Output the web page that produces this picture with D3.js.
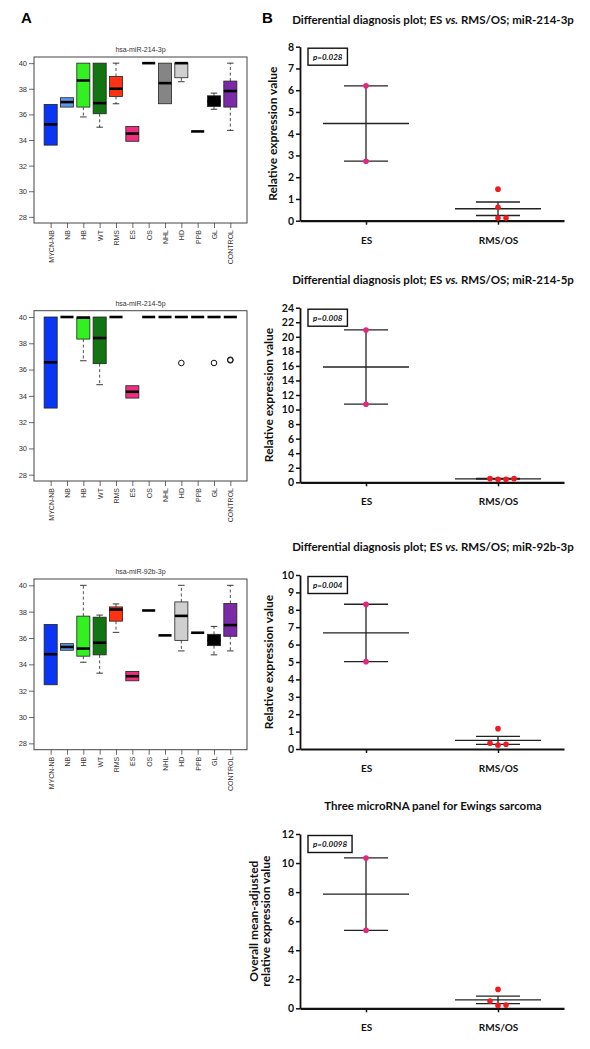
<!DOCTYPE html>
<html><head><meta charset="utf-8">
<script src="https://cdn.jsdelivr.net/npm/d3@7"></script>
<style>body{margin:0;background:#fff}svg{display:block}</style>
</head><body>
<svg id="c" width="590" height="1049"></svg>
<script>
// ---------- Panel A data (box plots, Ct values) ----------
const categories = ["MYCN-NB","NB","HB","WT","RMS","ES","OS","NHL","HD","PPB","GL","CONTROL"];
const boxColors = ["#0a35f5","#5b9be8","#33f020","#127412","#ff3312","#ee2f80","#000000","#858585","#cfcfcf","#000000","#000000","#7a2aa6"];
const boxTitles = ["hsa-miR-214-3p","hsa-miR-214-5p","hsa-miR-92b-3p"];
const boxTicks = [28,30,32,34,36,38,40];
// [lower whisker, Q1, median, Q3, upper whisker]
const stats214_3p = [
  [33.6,33.6,35.22,36.78,36.78],
  [36.57,36.57,36.96,37.3,37.3],
  [35.8,36.57,38.65,40,40],
  [35.0,36.05,36.88,40,40],
  [36.83,37.4,38.0,38.96,40],
  [33.9,33.9,34.5,35.06,35.06],
  [40,40,40,40,40],
  [36.83,36.83,38.44,40,40],
  [38.55,38.86,40,40,40],
  [34.67,34.67,34.67,34.67,34.67],
  [36.4,36.62,37.0,37.45,37.66],
  [34.75,36.57,37.82,38.6,40]
];
const stats214_5p = [
  [33.07,33.07,36.55,40,40],
  [40,40,40,40,40],
  [36.67,38.32,39.95,40,40],
  [34.85,36.45,38.4,40,40],
  [40,40,40,40,40],
  [33.83,33.83,34.31,34.77,34.77],
  [40,40,40,40,40],
  [40,40,40,40,40],
  [40,40,40,40,40],
  [40,40,40,40,40],
  [40,40,40,40,40],
  [40,40,40,40,40]
];
const outliers214_5p = [["HD",36.5],["GL",36.5],["CONTROL",36.7],["CONTROL",36.75]];
const stats92b_3p = [
  [32.45,32.45,34.77,37.03,37.03],
  [35.07,35.07,35.32,35.57,35.57],
  [34.16,34.62,35.2,37.66,40],
  [33.33,34.72,35.64,37.58,37.74],
  [36.43,37.28,38.16,38.36,38.59],
  [32.75,32.75,33.1,33.46,33.46],
  [38.09,38.09,38.09,38.09,38.09],
  [36.2,36.2,36.2,36.2,36.2],
  [35.02,35.82,37.68,38.74,40],
  [36.4,36.4,36.4,36.4,36.4],
  [34.72,35.42,35.8,36.28,36.88],
  [35.02,36.13,36.98,38.62,40]
];

// ---------- Panel B data (dot plots) ----------
const groups = ["ES","RMS/OS"];
const dotTitles = [
  "Differential diagnosis plot; ES vs. RMS/OS; miR-214-3p",
  "Differential diagnosis plot; ES vs. RMS/OS; miR-214-5p",
  "Differential diagnosis plot; ES vs. RMS/OS; miR-92b-3p",
  "Three microRNA panel for Ewings sarcoma"
];
const pValues = ["p=0.028","p=0.008","p=0.004","p=0.0098"];
const yTicks1 = [0,1,2,3,4,5,6,7,8];
const yTicks2 = [0,2,4,6,8,10,12,14,16,18,20,22,24];
const yTicks3 = [0,1,2,3,4,5,6,7,8,9,10];
const yTicks4 = [0,2,4,6,8,10,12];
const esValues1 = [6.2,2.73];   const rmsValues1 = [1.45,0.62,0.12,0.12];
const esValues2 = [20.93,10.72]; const rmsValues2 = [0.4,0.4,0.5,0.5];
const esValues3 = [8.31,5.02];  const rmsValues3 = [1.17,0.22,0.27,0.33];
const esValues4 = [10.35,5.37]; const rmsValues4 = [1.3,0.2,0.22,0.5];
const esMeans = [4.47,15.85,6.67,7.86];
const esErrs = [1.73,5.1,1.65,2.49];
const rmsMeans = [0.55,0.48,0.5,0.58];
const rmsErrs = [0.31,0.05,0.23,0.255];

const svg = d3.select("#c");
const ARIAL = "Liberation Sans, Arial, sans-serif";
const CAL = "Lato, 'Open Sans', sans-serif";

svg.append("text").attr("x",21).attr("y",23).text("A")
  .attr("font-family",ARIAL).attr("font-weight","bold").attr("font-size",15);
svg.append("text").attr("x",262).attr("y",23).text("B")
  .attr("font-family",ARIAL).attr("font-weight","bold").attr("font-size",15);

// ---------- Box plots ----------
const boxLayouts = [
  {top:57,bottom:223,titleY:52},
  {top:310.7,bottom:481,titleY:306},
  {top:579,bottom:749.7,titleY:574}
];
const boxStats = [stats214_3p, stats214_5p, stats92b_3p];
const boxOutliers = [[], outliers214_5p, []];
const L = 34, R = 247;

boxLayouts.forEach((lay,i)=>{
  const g = svg.append("g");
  const x = d3.scalePoint().domain(categories).range([L,R]).padding(1.02);
  const bw = x.step()*0.8;
  const y = d3.scaleLinear().domain([27.52,40.48]).range([lay.bottom, lay.top]);
  g.append("text").attr("x",(L+R)/2).attr("y",lay.titleY).attr("text-anchor","middle")
    .attr("font-family",ARIAL).attr("font-size",7).attr("fill","#333").text(boxTitles[i]);
  // y axis
  const ya = g.append("g").attr("transform",`translate(${L},0)`)
    .call(d3.axisLeft(y).tickValues(boxTicks).tickSize(5).tickPadding(2));
  ya.select(".domain").remove();
  ya.selectAll("line").attr("stroke","#444").attr("stroke-width",0.8);
  ya.selectAll("text").attr("font-family",ARIAL).attr("font-size",7.5).attr("fill","#333");
  // x axis
  const xa = g.append("g").attr("transform",`translate(0,${lay.bottom})`)
    .call(d3.axisBottom(x).tickSize(5));
  xa.select(".domain").remove();
  xa.selectAll("line").attr("stroke","#444").attr("stroke-width",0.8);
  xa.selectAll("text").attr("font-family",ARIAL).attr("font-size",7).attr("fill","#333")
    .attr("transform","rotate(-90)").attr("text-anchor","end")
    .attr("x",-7).attr("y",0).attr("dy","0.35em");
  // frame
  g.append("rect").attr("x",L).attr("y",lay.top).attr("width",R-L).attr("height",lay.bottom-lay.top)
    .attr("fill","none").attr("stroke","#444").attr("stroke-width",1);
  // boxes
  boxStats[i].forEach((s,k)=>{
    const cx = x(categories[k]);
    const [lw,q1,med,q3,uw] = s;
    const bg = g.append("g");
    if (uw > q3) {
      bg.append("line").attr("x1",cx).attr("x2",cx).attr("y1",y(q3)).attr("y2",y(uw))
        .attr("stroke","#222").attr("stroke-width",0.8).attr("stroke-dasharray","3,2.5");
      bg.append("line").attr("x1",cx-bw/4).attr("x2",cx+bw/4).attr("y1",y(uw)).attr("y2",y(uw))
        .attr("stroke","#222").attr("stroke-width",0.9);
    }
    if (lw < q1) {
      bg.append("line").attr("x1",cx).attr("x2",cx).attr("y1",y(q1)).attr("y2",y(lw))
        .attr("stroke","#222").attr("stroke-width",0.8).attr("stroke-dasharray","3,2.5");
      bg.append("line").attr("x1",cx-bw/4).attr("x2",cx+bw/4).attr("y1",y(lw)).attr("y2",y(lw))
        .attr("stroke","#222").attr("stroke-width",0.9);
    }
    if (q3 > q1) {
      bg.append("rect").attr("x",cx-bw/2).attr("y",y(q3)).attr("width",bw).attr("height",y(q1)-y(q3))
        .attr("fill",boxColors[k]).attr("stroke","#222").attr("stroke-width",0.8);
    }
    bg.append("line").attr("x1",cx-bw/2).attr("x2",cx+bw/2).attr("y1",y(med)).attr("y2",y(med))
      .attr("stroke","#000").attr("stroke-width",2.6);
  });
  boxOutliers[i].forEach(o=>{
    g.append("circle").attr("cx",x(o[0])).attr("cy",y(o[1])).attr("r",2.8)
      .attr("fill","none").attr("stroke","#111").attr("stroke-width",1);
  });
});

// ---------- Dot plots ----------
const dotLayouts = [
  {top:46.7,bottom:220.7,titleY:24,ylabX:[272]},
  {top:307.7,bottom:482.3,titleY:284,ylabX:[268.5]},
  {top:575,bottom:749,titleY:551,ylabX:[268.5]},
  {top:834,bottom:1008.3,titleY:810,ylabX:[253,265]}
];
const yLabels = [["Relative expression value"],["Relative expression value"],["Relative expression value"],
  ["Overall mean-adjusted","relative expression value"]];
const tickSets = [yTicks1,yTicks2,yTicks3,yTicks4];
const esSets = [esValues1,esValues2,esValues3,esValues4];
const rmsSets = [rmsValues1,rmsValues2,rmsValues3,rmsValues4];
const AX0 = 300, AX1 = 564;

dotLayouts.forEach((lay,i)=>{
  const g = svg.append("g");
  const ticks = tickSets[i];
  const y = d3.scaleLinear().domain([0, ticks[ticks.length-1]]).range([lay.bottom, lay.top]);
  const x = d3.scalePoint().domain(groups).range([AX0,AX1]).padding(0.5);
  // title
  const t = g.append("text").attr("x",433).attr("y",lay.titleY).attr("text-anchor","middle")
    .attr("font-family",CAL).attr("font-weight","bold").attr("font-size",11.5).attr("fill","#111");
  const title = dotTitles[i];
  if (title.includes(" vs. ")) {
    const parts = title.split(" vs. ");
    t.append("tspan").text(parts[0] + " ");
    t.append("tspan").attr("font-style","italic").text("vs.");
    t.append("tspan").text(" " + parts[1]);
  } else t.text(title);
  // y axis
  const ya = g.append("g").attr("transform",`translate(${AX0},0)`)
    .call(d3.axisLeft(y).tickValues(ticks).tickSize(4).tickPadding(2).tickSizeOuter(0));
  ya.select(".domain").attr("stroke","#111").attr("stroke-width",1.8);
  ya.selectAll(".tick line").attr("stroke","#111").attr("stroke-width",1.5);
  ya.selectAll("text").attr("font-family",CAL).attr("font-weight","bold").attr("font-size",10.5).attr("fill","#111");
  // x axis
  const xa = g.append("g").attr("transform",`translate(0,${lay.bottom})`)
    .call(d3.axisBottom(x).tickSize(4).tickPadding(12).tickSizeOuter(0));
  xa.select(".domain").attr("stroke","#111").attr("stroke-width",2.2);
  xa.selectAll(".tick line").attr("stroke","#111").attr("stroke-width",1.5);
  xa.selectAll("text").attr("font-family",CAL).attr("font-weight","bold").attr("font-size",10).attr("fill","#111");
  // y label
  const yl = yLabels[i];
  yl.forEach((s,j)=>{
    g.append("text").attr("transform",`translate(${lay.ylabX[j]},${(lay.top+lay.bottom)/2}) rotate(-90)`)
      .attr("text-anchor","middle").attr("dominant-baseline","central")
      .attr("font-family",CAL).attr("font-weight","bold").attr("font-size",12).attr("fill","#111").text(s);
  });
  // p-value box
  const pt = g.append("text").attr("font-family",CAL).attr("font-weight","bold").attr("font-style","italic")
    .attr("font-size",8).attr("fill","#111").text(pValues[i]);
  const tw = pt.node().getComputedTextLength();
  const bx = AX0+8, by = lay.top+1.5, bwid = tw+10, bh = 17;
  g.insert("rect","text").attr("x",bx).attr("y",by).attr("width",bwid).attr("height",bh)
    .attr("fill","#fff").attr("stroke","#111").attr("stroke-width",1.4);
  pt.attr("x",bx+bwid/2).attr("y",by+bh/2).attr("text-anchor","middle").attr("dominant-baseline","central");
  // mean & error bars
  const bars = [{grp:"ES",m:esMeans[i],e:esErrs[i]},{grp:"RMS/OS",m:rmsMeans[i],e:rmsErrs[i]}];
  bars.forEach(b=>{
    const cx = x(b.grp);
    const ln = (x1,x2,y1,y2)=>g.append("line").attr("x1",x1).attr("x2",x2).attr("y1",y1).attr("y2",y2)
      .attr("stroke","#222").attr("stroke-width",1.3);
    ln(cx,cx,y(b.m-b.e),y(b.m+b.e));
    ln(cx-22,cx+22,y(b.m+b.e),y(b.m+b.e));
    ln(cx-22,cx+22,y(b.m-b.e),y(b.m-b.e));
    ln(cx-43,cx+43,y(b.m),y(b.m));
  });
  // dots (simple dodge to avoid overlap)
  const place = (vals, grp, color)=>{
    const placed = [];
    const offs = [0,8,-8,16,-16];
    vals.forEach(v=>{
      const cy = y(v);
      let dx = 0;
      for (const o of offs) {
        if (!placed.some(p=>Math.hypot(p[0]-o,p[1]-cy)<6)) { dx = o; break; }
      }
      placed.push([dx,cy]);
      g.append("circle").attr("cx",x(grp)+dx).attr("cy",cy).attr("r",2.8).attr("fill",color);
    });
  };
  place(esSets[i],"ES","#e8267e");
  place(rmsSets[i],"RMS/OS","#ee1b22");
});
</script>
</body></html>
